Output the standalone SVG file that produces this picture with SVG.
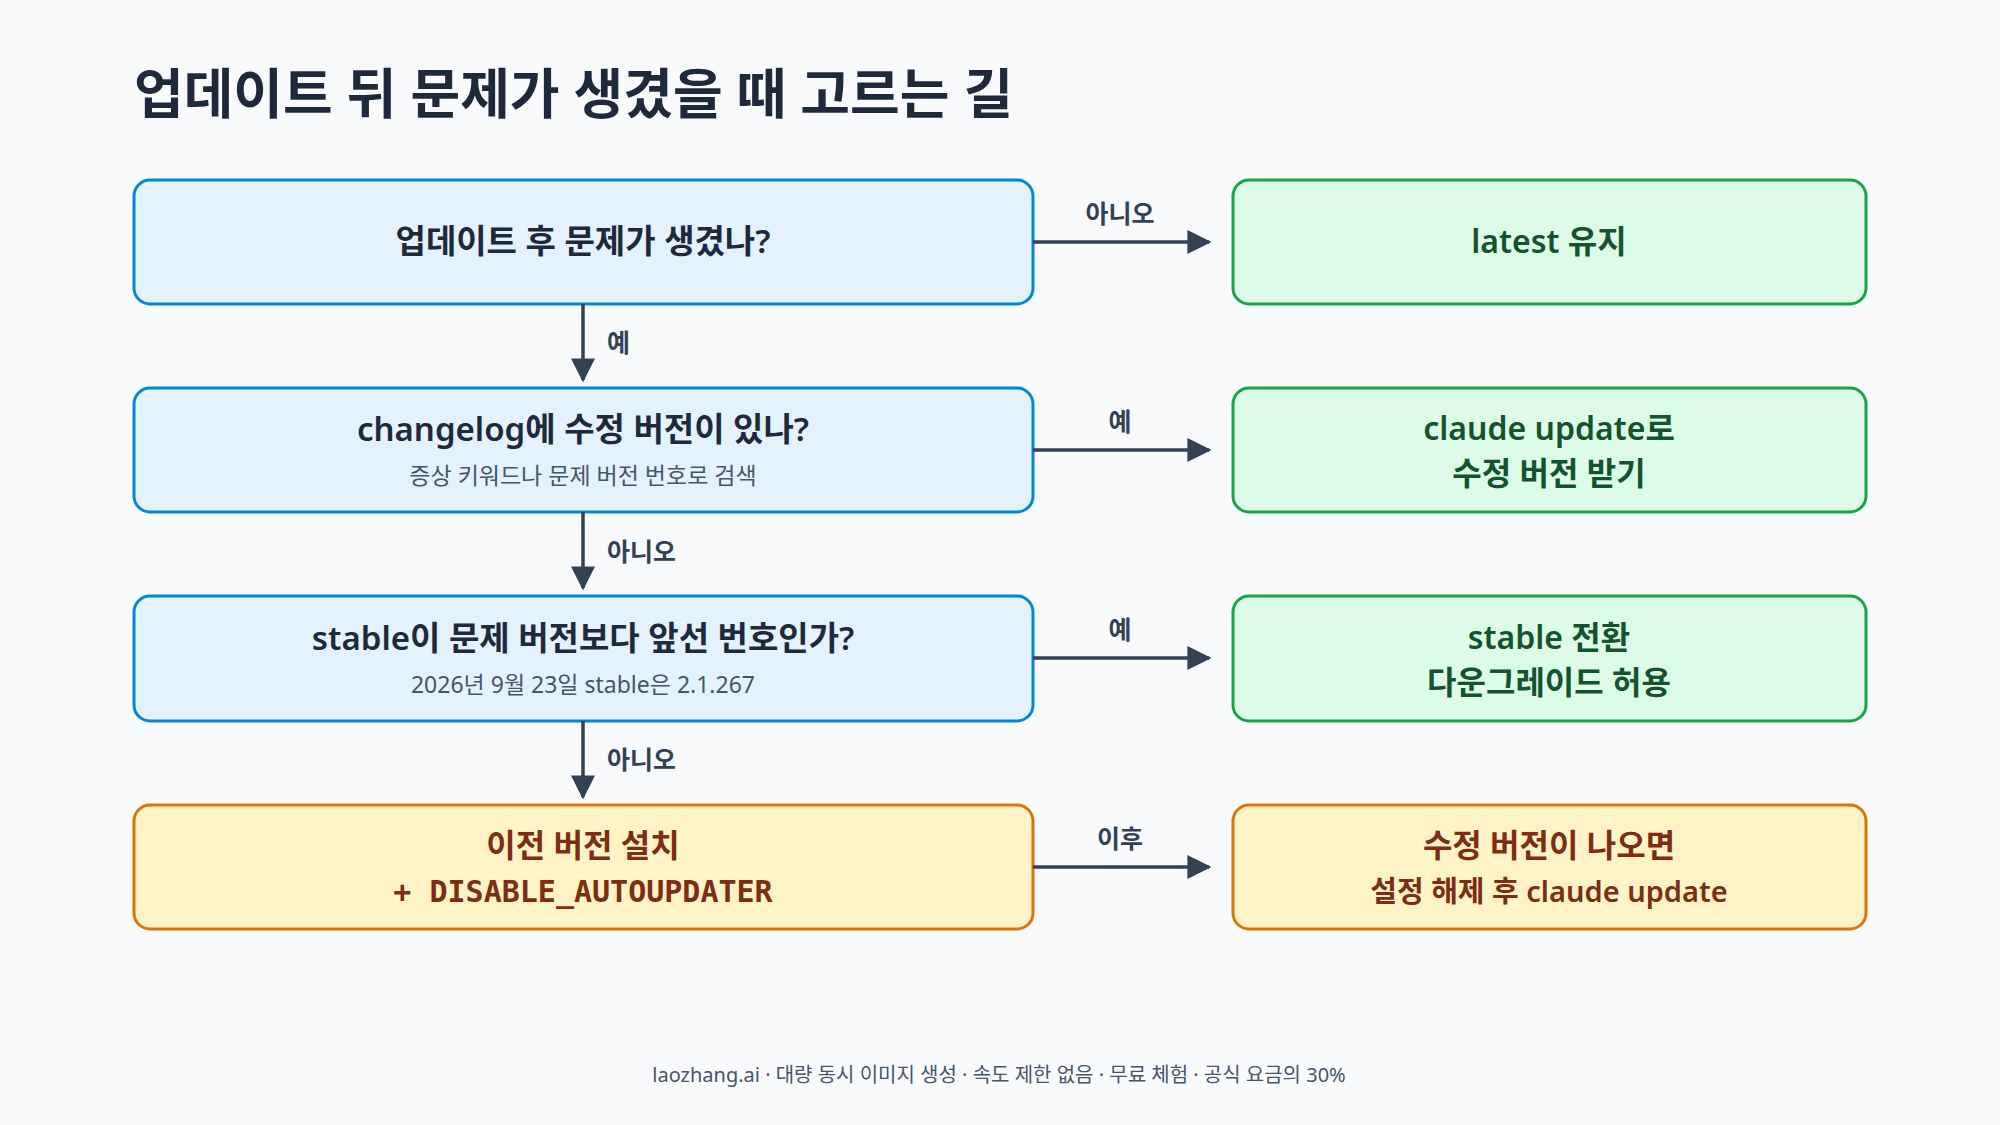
<svg xmlns="http://www.w3.org/2000/svg" width="2000" height="1125" viewBox="0 0 2000 1125">
<defs>
<marker id="a" viewBox="0 0 10 10" refX="9" refY="5" markerWidth="24" markerHeight="24" markerUnits="userSpaceOnUse" orient="auto"><path d="M0,0 L10,5 L0,10 z" fill="#334155"/></marker>
<style>
text{font-family:"Noto Sans","Noto Sans CJK KR",sans-serif}
.q rect{fill:#e3f2fd;stroke:#0288d1;stroke-width:3}
.g rect{fill:#dcfce7;stroke:#16a34a;stroke-width:3}
.y rect{fill:#fef3c7;stroke:#d97706;stroke-width:3}
.m{font-size:33px;font-weight:600;text-anchor:middle;fill:#1e293b}
.g .m{fill:#14532d;font-size:32px}
.y .m{fill:#7c2d12;font-size:32px}
.s{font-size:23px;text-anchor:middle;fill:#475569}
.c{stroke:#334155;stroke-width:3.5;fill:none}
.l{font-size:25px;font-weight:600;fill:#334155}
.mono{font-family:"DejaVu Sans Mono","Liberation Mono",monospace;font-weight:700;font-size:30px}
</style>
</defs>
<rect width="2000" height="1125" fill="#f8fafc"/>
<text x="134" y="114" font-size="54" font-weight="700" fill="#1e293b">업데이트 뒤 문제가 생겼을 때 고르는 길</text>
<g id="n1" class="q"><rect x="134" y="180" width="899" height="124" rx="16"/><text class="m" x="583" y="253">업데이트 후 문제가 생겼나?</text></g>
<g id="n2" class="q"><rect x="134" y="388" width="899" height="124" rx="16"/><text class="m" x="583" y="441">changelog에 수정 버전이 있나?</text><text class="s" x="583" y="484">증상 키워드나 문제 버전 번호로 검색</text></g>
<g id="n3" class="q"><rect x="134" y="596" width="899" height="125" rx="16"/><text class="m" x="583" y="650">stable이 문제 버전보다 앞선 번호인가?</text><text class="s" x="583" y="693">2026년 9월 23일 stable은 2.1.267</text></g>
<g id="n4" class="y"><rect x="134" y="805" width="899" height="124" rx="16"/><text class="m" x="583" y="857">이전 버전 설치</text><text class="m" x="583" y="902"><tspan class="mono">+ DISABLE_AUTOUPDATER</tspan></text></g>
<g id="r1" class="g"><rect x="1233" y="180" width="633" height="124" rx="16"/><text class="m" x="1549" y="253">latest 유지</text></g>
<g id="r2" class="g"><rect x="1233" y="388" width="633" height="124" rx="16"/><text class="m" x="1549" y="440">claude update로</text><text class="m" x="1549" y="485">수정 버전 받기</text></g>
<g id="r3" class="g"><rect x="1233" y="596" width="633" height="125" rx="16"/><text class="m" x="1549" y="649">stable 전환</text><text class="m" x="1549" y="694">다운그레이드 허용</text></g>
<g id="r4" class="y"><rect x="1233" y="805" width="633" height="124" rx="16"/><text class="m" x="1549" y="857">수정 버전이 나오면</text><text class="m" x="1549" y="902" style="font-size:29px">설정 해제 후 claude update</text></g>
<g id="connectors">
<line class="c" x1="1033" y1="242" x2="1209" y2="242" marker-end="url(#a)"/>
<line class="c" x1="1033" y1="450" x2="1209" y2="450" marker-end="url(#a)"/>
<line class="c" x1="1033" y1="658" x2="1209" y2="658" marker-end="url(#a)"/>
<line class="c" x1="1033" y1="867" x2="1209" y2="867" marker-end="url(#a)"/>
<line class="c" x1="583" y1="304" x2="583" y2="380" marker-end="url(#a)"/>
<line class="c" x1="583" y1="512" x2="583" y2="588" marker-end="url(#a)"/>
<line class="c" x1="583" y1="721" x2="583" y2="797" marker-end="url(#a)"/>
<text class="l" x="1120" y="223" text-anchor="middle">아니오</text>
<text class="l" x="1120" y="431" text-anchor="middle">예</text>
<text class="l" x="1120" y="639" text-anchor="middle">예</text>
<text class="l" x="1120" y="848" text-anchor="middle">이후</text>
<text class="l" x="607" y="352">예</text>
<text class="l" x="607" y="561">아니오</text>
<text class="l" x="607" y="769">아니오</text>
</g>
<text x="999" y="1082" font-size="20" text-anchor="middle" fill="#475569">laozhang.ai · 대량 동시 이미지 생성 · 속도 제한 없음 · 무료 체험 · 공식 요금의 30%</text>
</svg>
